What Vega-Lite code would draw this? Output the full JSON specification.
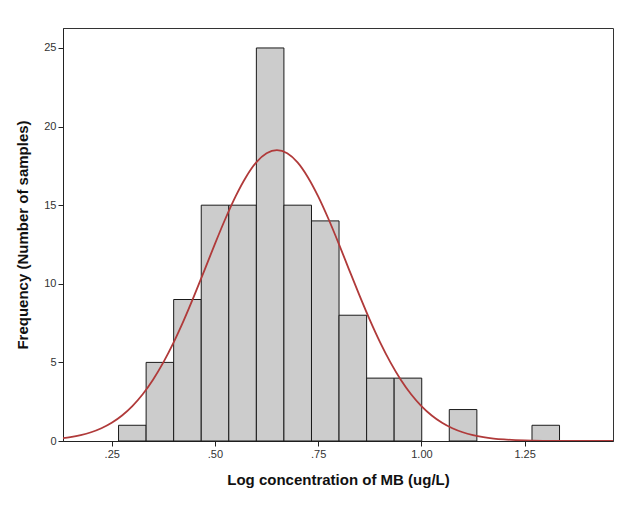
{
  "$schema": "https://vega.github.io/schema/vega-lite/v6.json",
  "width": 550,
  "height": 413,
  "autosize": {"type": "none"},
  "padding": {"left": 63, "top": 28, "right": 18, "bottom": 65},
  "background": "white",
  "config": {
    "view": {"stroke": "#333333", "strokeWidth": 1},
    "font": "Liberation Sans",
    "axis": {
      "grid": false,
      "domainColor": "#222222",
      "tickColor": "#222222",
      "tickSize": 5,
      "labelFont": "Liberation Sans",
      "labelFontSize": 11,
      "labelColor": "#333333",
      "titleFont": "Liberation Sans",
      "titleFontSize": 15,
      "titleFontWeight": "bold",
      "titleColor": "#111111"
    }
  },
  "datasets": {
    "bars": [
      {"start": 0.2665, "end": 0.3333, "count": 1},
      {"start": 0.3333, "end": 0.4000, "count": 5},
      {"start": 0.4000, "end": 0.4668, "count": 9},
      {"start": 0.4668, "end": 0.5335, "count": 15},
      {"start": 0.5335, "end": 0.6003, "count": 15},
      {"start": 0.6003, "end": 0.6670, "count": 25},
      {"start": 0.6670, "end": 0.7338, "count": 15},
      {"start": 0.7338, "end": 0.8005, "count": 14},
      {"start": 0.8005, "end": 0.8673, "count": 8},
      {"start": 0.8673, "end": 0.9340, "count": 4},
      {"start": 0.9340, "end": 1.0008, "count": 4},
      {"start": 1.0675, "end": 1.1343, "count": 2},
      {"start": 1.2678, "end": 1.3345, "count": 1}
    ],
    "curve": [
      {"x": 0.125, "y": 0.157}, {"x": 0.15, "y": 0.245}, {"x": 0.175, "y": 0.373},
      {"x": 0.2, "y": 0.557}, {"x": 0.225, "y": 0.813}, {"x": 0.25, "y": 1.161},
      {"x": 0.275, "y": 1.624}, {"x": 0.3, "y": 2.222}, {"x": 0.325, "y": 2.975},
      {"x": 0.35, "y": 3.899}, {"x": 0.375, "y": 5.001}, {"x": 0.4, "y": 6.275},
      {"x": 0.425, "y": 7.705}, {"x": 0.45, "y": 9.261}, {"x": 0.475, "y": 10.89},
      {"x": 0.5, "y": 12.54}, {"x": 0.525, "y": 14.12}, {"x": 0.55, "y": 15.56},
      {"x": 0.575, "y": 16.78}, {"x": 0.6, "y": 17.72}, {"x": 0.625, "y": 18.3},
      {"x": 0.65, "y": 18.5}, {"x": 0.675, "y": 18.3}, {"x": 0.7, "y": 17.72},
      {"x": 0.725, "y": 16.78}, {"x": 0.75, "y": 15.56}, {"x": 0.775, "y": 14.12},
      {"x": 0.8, "y": 12.54}, {"x": 0.825, "y": 10.89}, {"x": 0.85, "y": 9.261},
      {"x": 0.875, "y": 7.705}, {"x": 0.9, "y": 6.275}, {"x": 0.925, "y": 5.001},
      {"x": 0.95, "y": 3.899}, {"x": 0.975, "y": 2.975}, {"x": 1.0, "y": 2.222},
      {"x": 1.025, "y": 1.624}, {"x": 1.05, "y": 1.161}, {"x": 1.075, "y": 0.813},
      {"x": 1.1, "y": 0.557}, {"x": 1.125, "y": 0.373}, {"x": 1.15, "y": 0.245},
      {"x": 1.175, "y": 0.157}, {"x": 1.2, "y": 0.099}, {"x": 1.25, "y": 0.036},
      {"x": 1.3, "y": 0.012}, {"x": 1.35, "y": 0.004}, {"x": 1.4, "y": 0.001},
      {"x": 1.464, "y": 0.0}
    ]
  },
  "layer": [
    {
      "data": {"name": "bars"},
      "mark": {"type": "rect", "fill": "#cccccc", "stroke": "#1a1a1a", "strokeWidth": 1},
      "encoding": {
        "x": {
          "field": "start", "type": "quantitative",
          "scale": {"domain": [0.132, 1.464], "nice": false, "zero": false},
          "axis": {
            "values": [0.25, 0.5, 0.75, 1.0, 1.25],
            "labelExpr": "datum.value < 1 ? substring(format(datum.value, '.2f'), 1) : format(datum.value, '.2f')",
            "title": "Log concentration of MB (ug/L)",
            "titlePadding": 13
          }
        },
        "x2": {"field": "end"},
        "y": {
          "field": "count", "type": "quantitative",
          "scale": {"domain": [0, 26.27], "nice": false},
          "axis": {
            "values": [0, 5, 10, 15, 20, 25],
            "title": "Frequency (Number of samples)",
            "titlePadding": 13
          }
        },
        "y2": {"datum": 0}
      }
    },
    {
      "data": {"name": "curve"},
      "mark": {"type": "line", "color": "#b03a3a", "strokeWidth": 1.8, "clip": true, "interpolate": "monotone"},
      "encoding": {
        "x": {"field": "x", "type": "quantitative"},
        "y": {"field": "y", "type": "quantitative"}
      }
    }
  ]
}
